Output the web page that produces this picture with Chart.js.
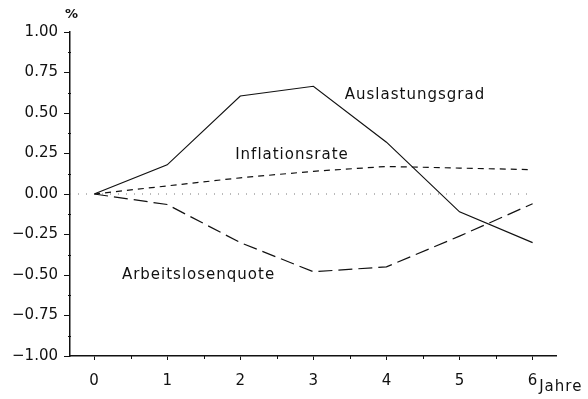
<!DOCTYPE html>
<html>
<head>
<meta charset="utf-8">
<script src="https://cdn.jsdelivr.net/npm/chart.js@4/dist/chart.umd.min.js"></script>
<style>
    html, body { margin: 0; padding: 0; background: #fff; }
    #wrap { position: relative; width: 588px; height: 399px; }
</style>
</head>
<body>
<div id="wrap"><canvas id="chart"></canvas></div>
<script>
// --- Data ---
const years = [0, 1, 2, 3, 4, 5, 6];
const auslastung = [0, 0.18, 0.605, 0.665, 0.32, -0.11, -0.30];
const inflation = [0, 0.05, 0.10, 0.14, 0.17, 0.16, 0.15];
const arbeitslos = [0, -0.065, -0.30, -0.48, -0.45, -0.26, -0.06];
const zeroLine = [-0.33, 6];
const xTicks = [0, 1, 2, 3, 4, 5, 6];
const yTicks = [-1, -0.75, -0.5, -0.25, 0, 0.25, 0.5, 0.75, 1];

// Curve labels, placed in data coordinates
const notes = [
    { text: 'Auslastungsgrad', x: 3.43, y: 0.61 },
    { text: 'Inflationsrate', x: 1.93, y: 0.24 },
    { text: 'Arbeitslosenquote', x: 0.38, y: -0.50 },
];

const FONT = "'DejaVu Sans', sans-serif";
const INK = '#111';

function pts(ys) { return years.map((x, i) => ({ x, y: ys[i] })); }
function fmt(v) { return v.toFixed(2).replace('-', '\u2212'); }

// minorTicks draws the small marks between the labelled ticks, plus the
// free text (curve names, axis units).
const extrasPlugin = {
    id: 'extras',
    afterDraw(chart) {
        const { ctx, scales: { x, y } } = chart;
        ctx.save();
        ctx.strokeStyle = INK;
        ctx.lineWidth = 1;
        ctx.beginPath();
        for (let v = -0.875; v < 1; v += 0.25) {
            const py = Math.round(y.getPixelForValue(v)) + 0.5;
            ctx.moveTo(x.left - 2, py);
            ctx.lineTo(x.left + 1, py);
        }
        for (let v = 0.5; v < 6; v += 1) {
            const px = Math.round(x.getPixelForValue(v)) + 0.5;
            ctx.moveTo(px, y.bottom);
            ctx.lineTo(px, y.bottom + 3);
        }
        ctx.stroke();

        ctx.fillStyle = INK;
        ctx.font = `15px ${FONT}`;
        ctx.letterSpacing = '1px';
        ctx.textBaseline = 'middle';
        ctx.textAlign = 'left';
        for (const n of notes) {
            ctx.fillText(n.text, x.getPixelForValue(n.x), y.getPixelForValue(n.y));
        }
        ctx.fillText('Jahre', x.getPixelForValue(6.09), y.bottom + 31);
        ctx.font = `bold 13px ${FONT}`;
        ctx.fillText('%', x.left - 5, y.top - 17);
        ctx.restore();
    },
};

new Chart(document.getElementById('chart'), {
    type: 'line',
    data: {
        datasets: [
            {
                data: [{ x: zeroLine[0], y: 0 }, { x: zeroLine[1], y: 0 }],
                borderColor: '#777',
                borderWidth: 1,
                borderDash: [1, 7],
            },
            {
                data: pts(auslastung),
                borderColor: INK,
                borderWidth: 1.2,
            },
            {
                data: pts(inflation),
                borderColor: INK,
                borderWidth: 1.2,
                borderDash: [6, 5],
            },
            {
                data: pts(arbeitslos),
                borderColor: INK,
                borderWidth: 1.2,
                borderDash: [14, 6],
            },
        ],
    },
    options: {
        responsive: true,
        maintainAspectRatio: false,
        animation: false,
        events: [],
        elements: { point: { radius: 0 }, line: { tension: 0 } },
        layout: { padding: { top: 32, right: 32, left: 0, bottom: 0 } },
        plugins: { legend: { display: false }, tooltip: { enabled: false } },
        scales: {
            x: {
                type: 'linear',
                min: -0.33,
                max: 6.32,
                afterBuildTicks: (s) => { s.ticks = xTicks.map((value) => ({ value })); },
                afterFit: (s) => { s.height = 43; },
                border: { display: true, color: INK, width: 1.5 },
                grid: { drawOnChartArea: false, tickLength: 4, color: INK },
                ticks: { color: INK, font: { family: FONT, size: 15 }, padding: 12, maxRotation: 0 },
            },
            y: {
                min: -1,
                max: 1,
                afterBuildTicks: (s) => { s.ticks = yTicks.map((value) => ({ value })); },
                afterFit: (s) => { s.width = 70; },
                border: { display: true, color: INK, width: 1.5 },
                grid: { drawOnChartArea: false, tickLength: 6, color: INK },
                ticks: { color: INK, font: { family: FONT, size: 15 }, padding: 6, callback: (v) => fmt(v) },
            },
        },
    },
    plugins: [extrasPlugin],
});
</script>
</body>
</html>
